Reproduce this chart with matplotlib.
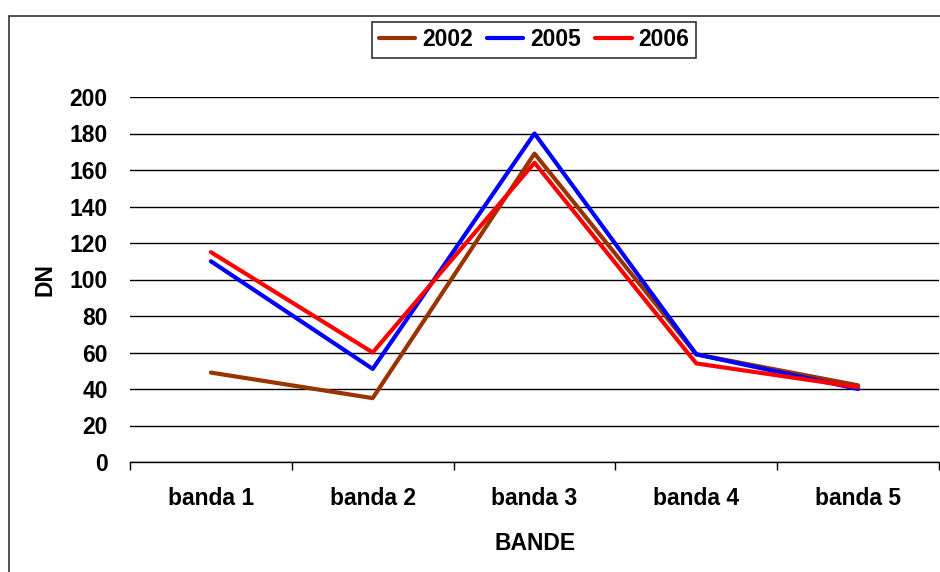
import matplotlib
matplotlib.use("Agg")
import matplotlib.pyplot as plt
from matplotlib.patches import Rectangle

# Data
bands = ["banda 1", "banda 2", "banda 3", "banda 4", "banda 5"]
dn_2002 = [49, 35, 169, 59, 42]
dn_2005 = [110, 51, 180, 59, 40]
dn_2006 = [115, 60, 164, 54, 41]
years = ["2002", "2005", "2006"]
colors = ["#993300", "#0000FF", "#FF0000"]

plt.rcParams["font.family"] = ["Liberation Sans", "DejaVu Sans"]
plt.rcParams["font.weight"] = "bold"

fig = plt.figure(figsize=(9.4, 5.72), dpi=100)
W, H = 940, 572
ax = fig.add_axes([130 / W, 1 - 462 / H, (939 - 130) / W, (462 - 97) / H])

x = list(range(len(bands)))
for vals, lab, col in zip([dn_2002, dn_2005, dn_2006], years, colors):
    ax.plot(x, vals, color=col, lw=3, label=lab, solid_capstyle="round")

ax.set_xlim(-0.5, len(bands) - 0.5)
ax.set_ylim(0, 200)
ax.set_yticks(range(0, 201, 20))
ax.set_xticks(x)
ax.set_xticklabels(bands)
ax.set_xticks([i - 0.5 for i in range(len(bands) + 1)], minor=True)
ax.tick_params(axis="x", which="major", length=0, pad=18, labelsize=16.5)
ax.tick_params(axis="x", which="minor", length=6, width=1, direction="out")
ax.tick_params(axis="y", length=0, pad=16, labelsize=16.5)
for lbl in ax.get_xticklabels() + ax.get_yticklabels():
    lbl.set_fontweight("bold")

ax.yaxis.grid(True, color="black", lw=1)
ax.set_axisbelow(True)
for s in ["top", "right", "left"]:
    ax.spines[s].set_visible(False)
ax.spines["bottom"].set_linewidth(1)

fig.text(535 / W, 1 - 543 / H, "BANDE", ha="center", va="center",
         fontsize=16.5, fontweight="bold")
fig.text(45 / W, 1 - 280 / H, "DN", ha="center", va="center",
         rotation=90, fontsize=16.5, fontweight="bold")

leg = fig.legend(loc="center", bbox_to_anchor=(534 / W, 1 - 40 / H), ncol=3,
                 frameon=True, fancybox=False, edgecolor="black",
                 fontsize=16.5, handlelength=1.6, handletextpad=0.3,
                 columnspacing=0.6, borderpad=0.3, borderaxespad=0)
leg.get_frame().set_linewidth(1.2)
for t in leg.get_texts():
    t.set_fontweight("bold")

fig.patches.append(Rectangle((9 / W, -0.1), 1.2, 1 - 16 / H + 0.1,
                             transform=fig.transFigure, fill=False,
                             edgecolor="#333333", lw=1.2))

fig.savefig("out.png", dpi=100)
